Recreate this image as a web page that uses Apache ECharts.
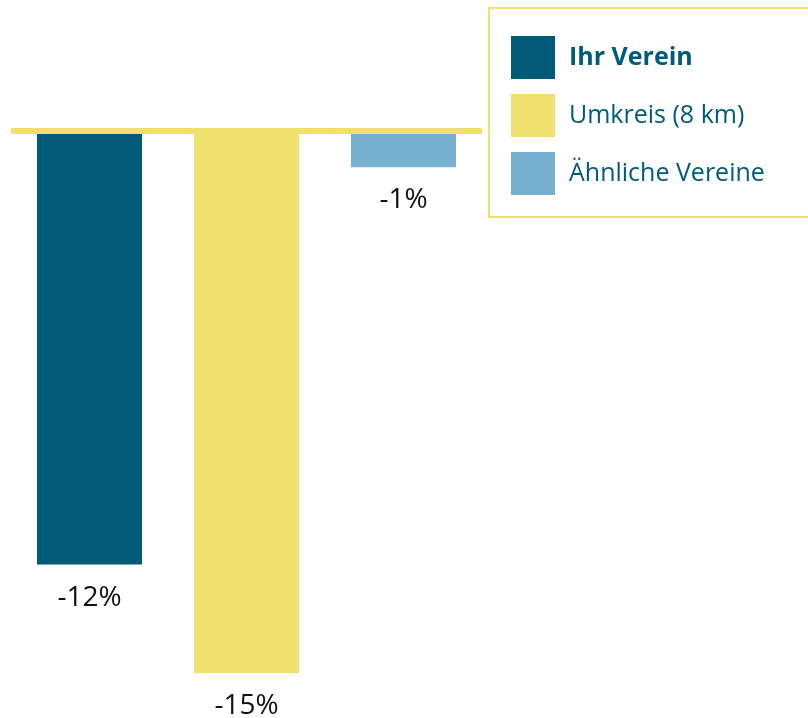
<!DOCTYPE html>
<html>
<head>
<meta charset="utf-8">
<script src="https://cdn.jsdelivr.net/npm/echarts@6/dist/echarts.min.js"></script>
<style>
  html, body { margin: 0; padding: 0; background: #fff; }
  #main { width: 808px; height: 718px; }
</style>
</head>
<body>
<div id="main"></div>
<script>
// Werte
const categories = ['Ihr Verein', 'Umkreis (8 km)', 'Ähnliche Vereine'];
const values = [-12, -15, -1];
const colors = ['#005A78', '#F0E16E', '#78B1CF'];

const chart = echarts.init(document.getElementById('main'));

// eine Serie je Kategorie, damit die Legende die Namen bekommt
const series = categories.map((name, i) => ({
  name: name,
  type: 'bar',
  stack: 'all',
  barWidth: 105,
  itemStyle: { color: colors[i] },
  label: {
    show: true,
    position: 'bottom',
    distance: 19,
    formatter: '{c}%',
    color: '#111',
    fontSize: 28,
    fontFamily: 'Open Sans'
  },
  data: values.map((v, j) => (j === i ? v : '-'))
}));

chart.setOption({
  animation: false,
  grid: { left: 11, right: 326, top: 131, bottom: 45 },
  xAxis: {
    type: 'category',
    data: categories,
    position: 'top',
    z: 10,
    axisLine: { show: true, lineStyle: { color: '#F0E16E', width: 6, cap: 'butt' } },
    axisTick: { show: false },
    axisLabel: { show: false }
  },
  yAxis: {
    type: 'value',
    min: -15,
    max: 0,
    show: false
  },
  legend: {
    orient: 'vertical',
    left: 489,
    top: 8,
    padding: [28, 80, 22, 22],
    borderColor: '#F0E16E',
    borderWidth: 2,
    itemWidth: 44,
    itemHeight: 43,
    itemGap: 15,
    icon: 'rect',
    selectedMode: false,
    textStyle: { color: '#005A78', fontSize: 25, fontFamily: 'Open Sans', padding: [0, 0, 0, 9] },
    data: [
      { name: categories[0], textStyle: { fontWeight: 'bold' } },
      { name: categories[1] },
      { name: categories[2] }
    ]
  },
  series: series
});
</script>
</body>
</html>
